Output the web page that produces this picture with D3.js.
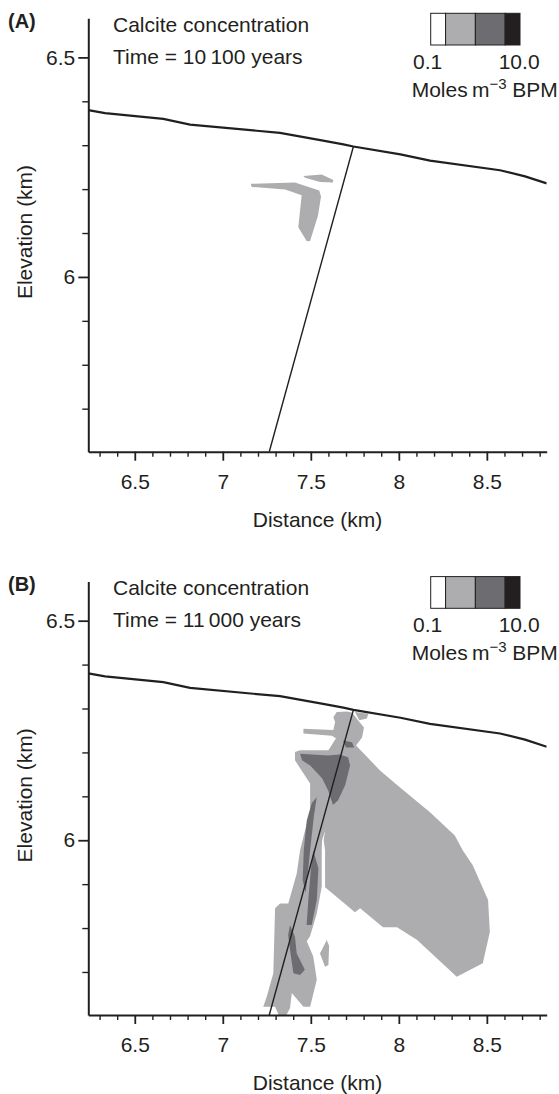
<!DOCTYPE html>
<html>
<head>
<meta charset="utf-8">
<script src="https://cdn.jsdelivr.net/npm/d3@7"></script>
<style>
  body { margin: 0; background: #fff; }
  svg { display: block; font-family: "Liberation Sans", Arial, sans-serif; }
  .axis path, .axis line { stroke: #231f20; }
  .axis text { font-size: 21px; fill: #231f20; font-family: "Liberation Sans", Arial, sans-serif; }
</style>
</head>
<body>
<div id="chart-area"></div>
<script>
// ---- data (km) ----
var xMajor = [6.5, 7, 7.5, 8, 8.5];
var xMinor = [6.3, 6.4, 6.6, 6.7, 6.8, 6.9, 7.1, 7.2, 7.3, 7.4, 7.6, 7.7, 7.8, 7.9, 8.1, 8.2, 8.3, 8.4, 8.6, 8.7, 8.8];
var yMajor = [6, 6.5];
var yMinor = [5.7, 5.8, 5.9, 6.1, 6.2, 6.3, 6.4];

var surfaceX = [6.236, 6.331, 6.662, 6.814, 7.325, 7.562, 7.685, 7.742, 8.009, 8.177, 8.575, 8.717, 8.84];
var surfaceY = [6.380, 6.373, 6.360, 6.347, 6.328, 6.311, 6.302, 6.297, 6.279, 6.265, 6.243, 6.229, 6.213];

var faultX = [7.742, 7.264];
var faultY = [6.297, 5.602];

var legendColors = ["#ffffff", "#adadb0", "#6d6d71", "#231f20"];
var legendBreaks = [0.0316, 0.1, 1, 10, 31.6];
var legendLabels = ["0.1", "10.0"];

var panels = ["(A)", "(B)"];
var times = ["Time = 10\u2009100 years", "Time = 11\u2009000 years"];

// panel A, > 0.1 moles
var patchA1 = [[7.159,6.212],[7.410,6.215],[7.548,6.197],[7.558,6.183],[7.541,6.140],[7.496,6.082],
  [7.477,6.081],[7.429,6.113],[7.448,6.186],[7.354,6.199],[7.164,6.205]];
var patchA2 = [[7.458,6.230],[7.562,6.233],[7.628,6.221],[7.625,6.215],[7.553,6.216],[7.467,6.226]];

// panel B, > 0.1 moles
var columnB = [[7.647,6.292],[7.706,6.293],[7.734,6.291],[7.768,6.273],[7.802,6.257],[7.791,6.234],
  [7.757,6.216],[7.695,6.182],[7.638,6.091],[7.564,6.000],[7.562,5.977],[7.562,5.894],[7.534,5.833],
  [7.496,5.782],[7.477,5.770],[7.514,5.735],[7.534,5.682],[7.496,5.621],[7.458,5.621],[7.392,5.652],
  [7.382,5.618],[7.359,5.600],[7.320,5.600],[7.297,5.621],[7.230,5.621],[7.250,5.644],[7.287,5.697],
  [7.297,5.845],[7.325,5.856],[7.372,5.856],[7.420,5.924],[7.439,5.977],[7.496,6.068],[7.496,6.129],
  [7.410,6.182],[7.410,6.201],[7.439,6.205],[7.600,6.205],[7.643,6.232],[7.619,6.238],[7.458,6.243],
  [7.458,6.254],[7.628,6.251],[7.638,6.269],[7.628,6.280]];
var bodyB = [[7.695,6.243],[7.757,6.216],[7.893,6.159],[8.007,6.120],[8.177,6.064],[8.318,6.011],
  [8.363,5.977],[8.420,5.943],[8.507,5.864],[8.517,5.791],[8.477,5.720],[8.329,5.689],[8.104,5.773],
  [7.990,5.802],[7.910,5.802],[7.780,5.845],[7.751,5.836],[7.581,5.893],[7.581,5.977],[7.573,6.000],
  [7.608,6.091],[7.655,6.159],[7.664,6.205]];
var sliverB = [[7.591,5.773],[7.604,5.759],[7.600,5.716],[7.581,5.712],[7.552,5.742]];
var topB = [[7.751,6.292],[7.827,6.288],[7.818,6.277],[7.776,6.273]];

// panel B, > 1 mole
var midB1 = [[7.439,6.197],[7.598,6.193],[7.664,6.195],[7.712,6.189],[7.723,6.170],[7.695,6.125],
  [7.655,6.091],[7.626,6.080],[7.598,6.114],[7.564,6.141],[7.496,6.170],[7.450,6.182]];
var midB2 = [[7.683,6.227],[7.734,6.223],[7.746,6.211],[7.700,6.211]];
var midB3 = [[7.534,6.098],[7.518,6.057],[7.496,5.977],[7.471,5.880],[7.454,5.909],[7.460,5.977],
  [7.477,6.045],[7.505,6.084]];
var midB4 = [[7.514,5.977],[7.543,5.936],[7.534,5.864],[7.505,5.807],[7.476,5.807],[7.488,5.875],[7.500,5.932]];
var midB5 = [[7.382,5.807],[7.410,5.780],[7.420,5.742],[7.466,5.705],[7.439,5.693],[7.401,5.697],
  [7.382,5.750],[7.371,5.784]];

var lowShapes = [[patchA1, patchA2], [columnB, bodyB, sliverB, topB]];
var midShapes = [[], [midB1, midB2, midB3, midB4, midB5]];

// ---- layout ----
var W = 559, H = 1094;
var panelOffset = [0, 563.3];
var plot = { left: 88.3, right: 546.7, top: 18.3, bottom: 451.7 };

var svg = d3.select("#chart-area")
  .append("svg")
    .attr("width", W)
    .attr("height", H);

var x = d3.scaleLinear()
    .domain([6.236, 8.84])
    .range([plot.left, plot.right]);
var y = d3.scaleLinear()
    .domain([5.602, 6.589])
    .range([plot.bottom, plot.top]);
var lg = d3.scaleLog()
    .domain([legendBreaks[0], legendBreaks[4]])
    .range([430.7, 520]);

var line = d3.line()
    .x(function(d){ return x(d[0]); })
    .y(function(d){ return y(d[1]); });

svg.append("clipPath")
    .attr("id", "plotclip")
  .append("rect")
    .attr("x", plot.left)
    .attr("y", plot.top)
    .attr("width", plot.right - plot.left)
    .attr("height", plot.bottom - plot.top);

panels.forEach(function(name, p){
  var g = svg.append("g")
      .attr("transform", "translate(0," + panelOffset[p] + ")");

  var area = g.append("g").attr("clip-path", "url(#plotclip)");

  area.selectAll(".low").data(lowShapes[p]).enter()
    .append("path")
      .attr("class", "low")
      .attr("d", function(d){ return line(d) + "Z"; })
      .attr("fill", legendColors[1]);

  area.selectAll(".mid").data(midShapes[p]).enter()
    .append("path")
      .attr("class", "mid")
      .attr("d", function(d){ return line(d) + "Z"; })
      .attr("fill", legendColors[2]);

  area.append("path")
      .attr("d", line(d3.zip(surfaceX, surfaceY)))
      .attr("fill", "none")
      .attr("stroke", "#231f20")
      .attr("stroke-width", 2.2);

  area.append("path")
      .attr("d", line(d3.zip(faultX, faultY)))
      .attr("fill", "none")
      .attr("stroke", "#231f20")
      .attr("stroke-width", 1.4);

  // axes
  g.append("g")
      .attr("class", "x axis")
      .attr("transform", "translate(0," + plot.bottom + ")")
      .call(d3.axisBottom(x).tickValues(xMinor).tickSize(5).tickSizeOuter(0).tickFormat(""))
      .call(function(s){ s.select(".domain").remove(); s.selectAll("line").attr("stroke-width", 1.4); });
  g.append("g")
      .attr("class", "x axis")
      .attr("transform", "translate(0," + plot.bottom + ")")
      .call(d3.axisBottom(x).tickValues(xMajor).tickSize(9).tickSizeOuter(0).tickPadding(13)
        .tickFormat(function(d){ return +d; }))
      .call(function(s){ s.select(".domain").attr("stroke-width", 2); s.selectAll("line").attr("stroke-width", 1.8); });

  g.append("g")
      .attr("class", "y axis")
      .attr("transform", "translate(" + plot.left + ",0)")
      .call(d3.axisLeft(y).tickValues(yMinor).tickSize(6).tickSizeOuter(0).tickFormat(""))
      .call(function(s){ s.select(".domain").remove(); s.selectAll("line").attr("stroke-width", 1.4); });
  g.append("g")
      .attr("class", "y axis")
      .attr("transform", "translate(" + plot.left + ",0)")
      .call(d3.axisLeft(y).tickValues(yMajor).tickSize(10).tickSizeOuter(0).tickPadding(3)
        .tickFormat(function(d){ return +d; }))
      .call(function(s){ s.select(".domain").attr("stroke-width", 2); s.selectAll("line").attr("stroke-width", 1.8); });

  g.append("text")
      .attr("x", (plot.left + plot.right) / 2)
      .attr("y", 527)
      .attr("text-anchor", "middle")
      .attr("font-size", "21px")
      .attr("fill", "#231f20")
      .text("Distance (km)");

  g.append("text")
      .attr("transform", "translate(32," + ((plot.top + plot.bottom) / 2 - 3) + ") rotate(-90)")
      .attr("text-anchor", "middle")
      .attr("font-size", "21px")
      .attr("fill", "#231f20")
      .text("Elevation (km)");

  g.append("text")
      .attr("x", 8)
      .attr("y", 28)
      .attr("font-size", "20px")
      .attr("font-weight", "bold")
      .attr("fill", "#231f20")
      .text(name);

  g.append("text")
      .attr("x", 113)
      .attr("y", 32)
      .attr("font-size", "21px")
      .attr("fill", "#231f20")
      .text("Calcite concentration");

  g.append("text")
      .attr("x", 113)
      .attr("y", 63.5)
      .attr("font-size", "21px")
      .attr("fill", "#231f20")
      .text(times[p]);

  // legend
  var leg = g.append("g");
  leg.selectAll("rect").data(legendColors).enter()
    .append("rect")
      .attr("x", function(d, i){ return lg(legendBreaks[i]); })
      .attr("y", 13.3)
      .attr("width", function(d, i){ return lg(legendBreaks[i + 1]) - lg(legendBreaks[i]); })
      .attr("height", 31.7)
      .attr("fill", function(d){ return d; })
      .attr("stroke", "#231f20")
      .attr("stroke-width", 1);

  leg.append("text")
      .attr("x", lg(legendBreaks[1]) - 18)
      .attr("y", 68.5)
      .attr("text-anchor", "middle")
      .attr("font-size", "21px")
      .attr("fill", "#231f20")
      .text(legendLabels[0]);
  leg.append("text")
      .attr("x", lg(legendBreaks[3]) + 14)
      .attr("y", 68.5)
      .attr("text-anchor", "middle")
      .attr("font-size", "21px")
      .attr("fill", "#231f20")
      .text(legendLabels[1]);

  var unit = leg.append("text")
      .attr("x", 411.7)
      .attr("y", 97)
      .attr("font-size", "21px")
      .attr("fill", "#231f20");
  unit.append("tspan").text("Moles\u2009m");
  unit.append("tspan").attr("font-size", "15px").attr("dy", -8).text("\u22123");
  unit.append("tspan").attr("dy", 8).text(" BPM");
});
</script>
</body>
</html>
